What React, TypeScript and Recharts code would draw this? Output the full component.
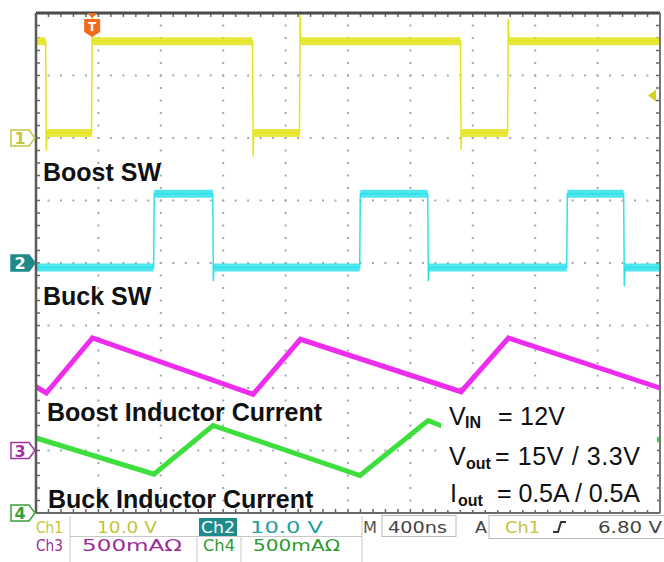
import React from 'react';
import { ComposedChart, Line, XAxis, YAxis, ReferenceDot, ReferenceLine } from 'recharts';

// ---- time base: 400 ns/div, 10 divisions ----
const timeDomain = [0, 4000];
const timeMinorTicksNs = [0, 80, 160, 240, 320, 400, 480, 560, 640, 720, 800, 880, 960, 1040, 1120, 1200, 1280, 1360, 1440, 1520, 1600, 1680, 1760, 1840, 1920, 2000, 2080, 2160, 2240, 2320, 2400, 2480, 2560, 2640, 2720, 2800, 2880, 2960, 3040, 3120, 3200, 3280, 3360, 3440, 3520, 3600, 3680, 3760, 3840, 3920, 4000];
const timeGridNs = [400, 800, 1200, 1600, 2000, 2400, 2800, 3200, 3600];
// vertical frame ticks, expressed on the Ch4 scale (500 mA/div, 8 div)
const ampMinorTicks = [0, 0.1, 0.2, 0.3, 0.4, 0.5, 0.6, 0.7, 0.8, 0.9, 1, 1.1, 1.2, 1.3, 1.4, 1.5, 1.6, 1.7, 1.8, 1.9, 2, 2.1, 2.2, 2.3, 2.4, 2.5, 2.6, 2.7, 2.8, 2.9, 3, 3.1, 3.2, 3.3, 3.4, 3.5, 3.6, 3.7, 3.8, 3.9, 4];
const ampGrid = [0.5, 1, 1.5, 2, 2.5, 3, 3.5];

// ---- Ch1: Boost SW (10 V/div) ----
const boostSwTimeNs = [0, 62, 66, 70, 356, 360, 364, 1388, 1392, 1396, 1689, 1693, 1697, 2721, 2725, 2729, 3023, 3027, 3031, 4000];
const boostSwVolts = [15.5, 15.5, -2.0, 0.8, 0.8, 19.5, 15.5, 15.5, -3.0, 0.8, 0.8, 19.7, 15.5, 15.5, -1.9, 0.8, 0.8, 19.0, 15.5, 15.5];

// ---- Ch2: Buck SW (10 V/div) ----
const buckSwTimeNs = [0, 754, 758, 1133, 1137, 1141, 2075, 2079, 2511, 2515, 2519, 3402, 3406, 3767, 3771, 3775, 4000];
const buckSwVolts = [-0.7, -0.7, 11.1, 11.1, -2.9, -0.7, -0.7, 11.1, 11.1, -2.9, -0.7, -0.7, 11.1, 11.1, -3.7, -0.7, -0.7];

// ---- Ch3: Boost inductor current (500 mA/div) ----
const boostILTimeNs = [0, 66, 362, 1392, 1695, 2725, 3029, 4000];
const boostILAmps = [0.51, 0.46, 0.9, 0.45, 0.89, 0.47, 0.9, 0.5];

// ---- Ch4: Buck inductor current (500 mA/div) ----
const buckILTimeNs = [0, 756, 1135, 2077, 2513, 3404, 3769, 4000];
const buckILAmps = [0.6, 0.31, 0.7, 0.3, 0.74, 0.3, 0.72, 0.58];

// trigger
const triggerTimeNs = 360;
const triggerLevelV = 6.8;

const toPoints = (ts: number[], vs: number[]) => ts.map((t, i) => ({ t, v: vs[i] }));
const flatParts = (ts: number[], vs: number[]) => {
  const out: { t: number; v: number | null }[] = [];
  for (let i = 0; i < ts.length - 1; i++) {
    if (vs[i] === vs[i + 1]) {
      out.push({ t: ts[i], v: vs[i] }, { t: ts[i + 1], v: vs[i + 1] }, { t: ts[i + 1], v: null });
    }
  }
  return out;
};

const ch1 = toPoints(boostSwTimeNs, boostSwVolts);
const ch1Band = flatParts(boostSwTimeNs, boostSwVolts);
const ch2 = toPoints(buckSwTimeNs, buckSwVolts);
const ch2Band = flatParts(buckSwTimeNs, buckSwVolts);
const ch3 = toPoints(boostILTimeNs, boostILAmps);
const ch4 = toPoints(buckILTimeNs, buckILAmps);

const YELLOW = '#e4e41c';
const CYAN = '#2ee2ea';
const MAGENTA = '#ee2cee';
const GREEN = '#3ede3e';
const GRID = '#a2a8b4';
const TICK = '#666';
const TICK_T = 25.6; // 4 px expressed in ns
const TICK_A = 0.032; // 4 px expressed in A (Ch4 scale)

const ChannelMarker = ({ cx, cy, label, color, filled }: any) => (
  <g>
    <polygon
      points={`${cx - 25},${cy - 8} ${cx - 7},${cy - 8} ${cx - 1},${cy} ${cx - 7},${cy + 8} ${cx - 25},${cy + 8}`}
      fill={filled ? color : '#fff'}
      stroke={color}
      strokeWidth={1.5}
    />
    <text x={cx - 16} y={cy + 6} textAnchor="middle" fontSize={16} fontFamily="DejaVu Sans" fontWeight="bold" fill={filled ? '#fff' : color}>
      {label}
    </text>
  </g>
);

const TriggerMarker = ({ cx, cy }: any) => (
  <g>
    <polygon points={`${cx - 5},${cy} ${cx + 5},${cy} ${cx},${cy + 5}`} fill="#f26b1d" />
    <polygon points={`${cx - 8},${cy + 6} ${cx + 8},${cy + 6} ${cx + 8},${cy + 19} ${cx},${cy + 24} ${cx - 8},${cy + 19}`} fill="#f26b1d" />
    <text x={cx} y={cy + 18} textAnchor="middle" fill="#fff" fontSize={12} fontWeight="bold" fontFamily="DejaVu Sans">T</text>
  </g>
);

const LevelArrow = ({ cx, cy }: any) => (
  <polygon points={`${cx - 12},${cy} ${cx - 4},${cy - 6} ${cx - 4},${cy + 6}`} fill="#d4d41e" />
);

const lbl = { fontFamily: 'Liberation Sans, Arial, sans-serif', fontWeight: 'bold' as const, fontSize: 25, fill: '#111' };
const ann = { fontFamily: 'Liberation Sans, Arial, sans-serif', fontSize: 25, fill: '#111' };
const sub = { fontFamily: 'Liberation Sans, Arial, sans-serif', fontSize: 16, fontWeight: 'bold' as const, fill: '#111' };
const sb = { fontFamily: 'DejaVu Sans, Verdana, sans-serif', fontSize: 15, lengthAdjust: 'spacingAndGlyphs' as const };

export default function App() {
  return (
    <div style={{ position: 'absolute', left: 0, top: 0, width: 664, height: 562, background: '#fff' }}>
      <ComposedChart width={664} height={562} margin={{ top: 13, right: 4, bottom: 49, left: 36 }}>
        <XAxis xAxisId="t" type="number" dataKey="t" domain={timeDomain} tick={false} tickLine={false} mirror axisLine={{ stroke: '#6a6a6a', strokeWidth: 2 }} />
        <XAxis xAxisId="top" orientation="top" type="number" domain={timeDomain} tick={false} tickLine={false} mirror axisLine={{ stroke: '#4a4a4a', strokeWidth: 3 }} />
        <YAxis yAxisId="frameL" orientation="left" type="number" domain={[0, 8]} tick={false} tickLine={false} mirror axisLine={{ stroke: '#5a5a5a', strokeWidth: 2.5 }} />
        <YAxis yAxisId="frameR" orientation="right" type="number" domain={[0, 8]} tick={false} tickLine={false} mirror axisLine={{ stroke: '#777', strokeWidth: 2 }} />
        <YAxis yAxisId="c1" type="number" domain={[-60, 20]} allowDataOverflow hide />
        <YAxis yAxisId="c2" type="number" domain={[-40, 40]} allowDataOverflow hide />
        <YAxis yAxisId="c3" type="number" domain={[-0.5, 3.5]} allowDataOverflow hide />
        <YAxis yAxisId="c4" type="number" domain={[0, 4]} allowDataOverflow hide />

        {/* graticule (dotted division lines) */}
        {timeGridNs.map((t) => (
          <ReferenceLine key={`gx${t}`} xAxisId="t" yAxisId="c4" x={t} stroke={GRID} strokeWidth={2} strokeDasharray="1 10.5 1 0" />
        ))}
        {ampGrid.map((a) => (
          <ReferenceLine key={`gy${a}`} xAxisId="t" yAxisId="c4" y={a} stroke={GRID} strokeWidth={2} strokeDasharray="1 10.48 1 0" />
        ))}
        {/* frame minor ticks */}
        {timeMinorTicksNs.map((t) => (
          <ReferenceLine key={`tb${t}`} xAxisId="t" yAxisId="c4" segment={[{ x: t, y: 0 }, { x: t, y: TICK_A }]} stroke={TICK} strokeWidth={1.5} ifOverflow="visible" />
        ))}
        {timeMinorTicksNs.map((t) => (
          <ReferenceLine key={`tt${t}`} xAxisId="t" yAxisId="c4" segment={[{ x: t, y: 4 }, { x: t, y: 4 - TICK_A }]} stroke={TICK} strokeWidth={1.5} ifOverflow="visible" />
        ))}
        {ampMinorTicks.map((a) => (
          <ReferenceLine key={`tl${a}`} xAxisId="t" yAxisId="c4" segment={[{ x: 0, y: a }, { x: TICK_T, y: a }]} stroke={TICK} strokeWidth={1.5} ifOverflow="visible" />
        ))}
        {ampMinorTicks.map((a) => (
          <ReferenceLine key={`tr${a}`} xAxisId="t" yAxisId="c4" segment={[{ x: 4000 - TICK_T, y: a }, { x: 4000, y: a }]} stroke={TICK} strokeWidth={1.5} ifOverflow="visible" />
        ))}

        <Line xAxisId="t" yAxisId="c1" data={ch1Band} dataKey="v" stroke={YELLOW} strokeWidth={8} strokeOpacity={0.85} dot={false} connectNulls={false} isAnimationActive={false} />
        <Line xAxisId="t" yAxisId="c1" data={ch1} dataKey="v" stroke={YELLOW} strokeWidth={1.5} dot={false} isAnimationActive={false} />
        <Line xAxisId="t" yAxisId="c2" data={ch2Band} dataKey="v" stroke={CYAN} strokeWidth={8} strokeOpacity={0.85} dot={false} connectNulls={false} isAnimationActive={false} />
        <Line xAxisId="t" yAxisId="c2" data={ch2} dataKey="v" stroke={CYAN} strokeWidth={1.5} dot={false} isAnimationActive={false} />
        <Line xAxisId="t" yAxisId="c3" data={ch3} dataKey="v" stroke={MAGENTA} strokeWidth={5} dot={false} isAnimationActive={false} />
        <Line xAxisId="t" yAxisId="c4" data={ch4} dataKey="v" stroke={GREEN} strokeWidth={5} dot={false} isAnimationActive={false} />

        <ReferenceDot xAxisId="t" yAxisId="c1" x={0} y={0} shape={(p: any) => <ChannelMarker cx={p.cx} cy={p.cy} label="1" color="#c6c63c" />} />
        <ReferenceDot xAxisId="t" yAxisId="c2" x={0} y={0} shape={(p: any) => <ChannelMarker cx={p.cx} cy={p.cy} label="2" color="#1f8a8a" filled />} />
        <ReferenceDot xAxisId="t" yAxisId="c3" x={0} y={0} shape={(p: any) => <ChannelMarker cx={p.cx} cy={p.cy} label="3" color="#a232a2" />} />
        <ReferenceDot xAxisId="t" yAxisId="c4" x={0} y={0} shape={(p: any) => <ChannelMarker cx={p.cx} cy={p.cy} label="4" color="#36a036" />} />
        <ReferenceDot xAxisId="t" yAxisId="c1" x={triggerTimeNs} y={20} shape={(p: any) => <TriggerMarker cx={p.cx} cy={p.cy} />} />
        <ReferenceDot xAxisId="t" yAxisId="c1" x={4000} y={triggerLevelV} shape={(p: any) => <LevelArrow cx={p.cx} cy={p.cy} />} />
      </ComposedChart>

      <svg width={664} height={562} style={{ position: 'absolute', left: 0, top: 0, pointerEvents: 'none' }}>
        <rect x={441} y={399} width={216} height={111} fill="#fff" />
        <text x={43} y={181} {...lbl}>Boost SW</text>
        <text x={43} y={305} {...lbl}>Buck SW</text>
        <text x={47} y={421} {...lbl}>Boost Inductor Current</text>
        <text x={48} y={508} {...lbl}>Buck Inductor Current</text>

        <text x={449} y={425} {...ann}>V</text>
        <text x={465} y={428} {...sub}>IN</text>
        <text x={498} y={425} {...ann} textLength={67}>= 12V</text>
        <text x={449} y={465} {...ann}>V</text>
        <text x={466} y={469} {...sub}>out</text>
        <text x={495} y={465} {...ann} textLength={145}>= 15V  / 3.3V</text>
        <text x={450} y={502} {...ann}>I</text>
        <text x={458} y={506} {...sub}>out</text>
        <text x={497} y={502} {...ann} textLength={143}>= 0.5A / 0.5A</text>

        {/* status bar */}
        <line x1={70} y1={516} x2={70} y2={562} stroke="#c8c8c8" />
        <line x1={70} y1={536.5} x2={362} y2={536.5} stroke="#c8c8c8" />
        <line x1={197} y1={536.5} x2={197} y2={562} stroke="#c8c8c8" />
        <line x1={241} y1={536.5} x2={241} y2={562} stroke="#c8c8c8" />
        <line x1={362} y1={516} x2={362} y2={562} stroke="#c8c8c8" />
        <rect x={199} y={518} width={38} height={18} fill="#1f8c8c" />
        <text x={36} y={533} {...sb} textLength={27} fill="#c4c43a">Ch1</text>
        <text x={97} y={533} {...sb} textLength={60} fill="#c4c43a">10.0 V</text>
        <text x={201} y={533} {...sb} textLength={34} fill="#fff">Ch2</text>
        <text x={250} y={533} {...sb} textLength={73} fill="#22a0a0">10.0 V</text>
        <text x={363} y={533} {...sb} textLength={14} fill="#555">M</text>
        <rect x={382} y={515.5} width={74} height={21} fill="none" stroke="#bbb" />
        <text x={388} y={533} {...sb} textLength={59} fill="#444">400ns</text>
        <text x={475} y={533} {...sb} textLength={12} fill="#444">A</text>
        <rect x={489} y={515.5} width={180} height={23} fill="none" stroke="#bbb" />
        <text x={505} y={533} {...sb} textLength={35} fill="#c4c43a">Ch1</text>
        <path d="M553,532 L558,532 L561,522 L566,522" stroke="#333" strokeWidth={2} fill="none" />
        <text x={598} y={533} {...sb} textLength={64} fill="#444">6.80 V</text>
        <text x={36} y={551} {...sb} textLength={27} fill="#9b2d9b">Ch3</text>
        <text x={82} y={551} {...sb} textLength={100} fill="#9b2d9b">500mAΩ</text>
        <text x={203} y={551} {...sb} textLength={32} fill="#2e9a2e">Ch4</text>
        <text x={253} y={551} {...sb} textLength={87} fill="#2e9a2e">500mAΩ</text>
      </svg>
    </div>
  );
}
